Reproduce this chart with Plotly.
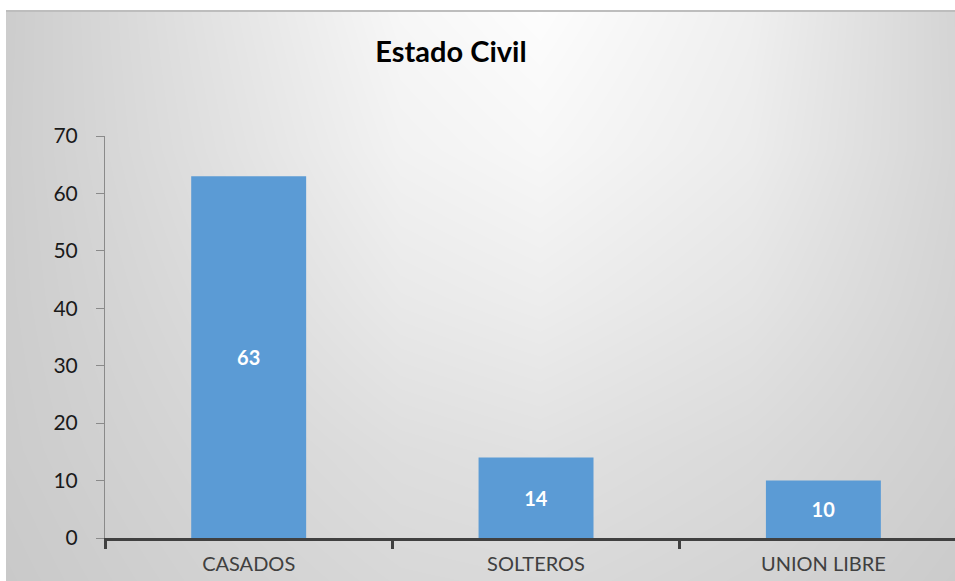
import plotly.graph_objects as go

# ---- data ----
categories = ["CASADOS", "SOLTEROS", "UNION LIBRE"]
values = [63, 14, 10]
y_ticks = [0, 10, 20, 30, 40, 50, 60, 70]

# background gray levels (rows: top -> bottom)
bg_x = [-50, 200, 400, 540, 750, 1000]
bg_y = [-20, 150, 300, 450, 620]
bg_gray = [
    [198, 226, 248, 254, 240, 206],
    [200, 223, 242, 247, 236, 208],
    [201, 218, 233, 237, 228, 207],
    [201, 213, 222, 225, 218, 205],
    [198, 208, 214, 215, 210, 200],
]

W, H = 955, 581
BAR = "#5B9BD5"
FONT = "Lato"

fig = go.Figure()

fig.add_trace(go.Heatmap(
    x=bg_x, y=bg_y, z=bg_gray, zmin=0, zmax=255, zsmooth="best",
    colorscale=[[0, "rgb(0,0,0)"], [1, "rgb(255,255,255)"]],
    showscale=False, hoverinfo="skip", xaxis="x", yaxis="y",
))

fig.add_trace(go.Bar(
    x=categories, y=values, width=0.4, marker=dict(color=BAR, line=dict(width=0)),
    text=[str(v) for v in values], textposition="inside", insidetextanchor="middle",
    textfont=dict(family=FONT, size=20, color="white", weight="bold"),
    xaxis="x2", yaxis="y2", hoverinfo="skip",
))

fig.update_layout(
    template="none",
    width=W, height=H,
    margin=dict(l=0, r=0, t=0, b=0, pad=0),
    paper_bgcolor="white", plot_bgcolor="rgba(0,0,0,0)",
    showlegend=False,
    xaxis=dict(domain=[6 / W, 1], range=[6, W], visible=False, fixedrange=True, automargin=False),
    yaxis=dict(domain=[0, (H - 11) / H], range=[H, 11], visible=False, fixedrange=True, automargin=False),
    xaxis2=dict(
        domain=[105 / W, 1], anchor="y2", type="category",
        range=[-0.5, 2.458], tickson="boundaries", automargin=False,
        showline=True, linecolor="#404040", linewidth=3,
        ticks="outside", ticklen=8, tickwidth=3, tickcolor="#404040",
        showgrid=False, zeroline=False,
        tickfont=dict(family=FONT, size=20, color="#404040"),
        ticklabelstandoff=6,
    ),
    yaxis2=dict(
        domain=[43 / H, 445 / H], anchor="x2", range=[0, 70], automargin=False,
        tickvals=y_ticks, showline=True, linecolor="#8a8a8a", linewidth=1,
        ticks="outside", ticklen=8, tickwidth=1, tickcolor="#8a8a8a",
        showgrid=False, zeroline=False,
        tickfont=dict(family=FONT, size=21, color="#1a1a1a"),
        ticklabelstandoff=14,
    ),
    title=dict(
        text="<b>Estado Civil</b>", x=451 / W, xanchor="center",
        y=(H - 52) / H, yanchor="middle",
        font=dict(family=FONT, size=29, color="#000000"),
    ),
    shapes=[
        dict(type="line", xref="paper", yref="paper", x0=6 / W, x1=1,
             y0=(H - 11) / H, y1=(H - 11) / H, line=dict(color="#bdbdbd", width=2)),
    ],
)

fig.write_html(
    "out.html",
    config={"displayModeBar": False, "staticPlot": True},
    post_script="document.body.style.margin='0';document.body.style.overflow='hidden';",
)
